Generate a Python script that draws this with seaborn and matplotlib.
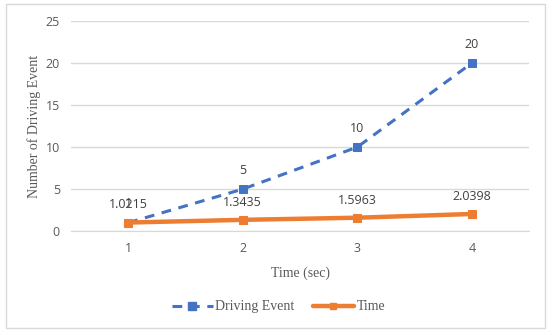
import pandas as pd
import matplotlib.pyplot as plt
import seaborn as sns
from matplotlib.lines import Line2D
from matplotlib.patches import Rectangle

# data
time_sec = [1, 2, 3, 4]
driving_event = [1, 5, 10, 20]
time_values = [1.0215, 1.3435, 1.5963, 2.0398]
time_labels = ["1.0215", "1.3435", "1.5963", "2.0398"]

df = pd.DataFrame({
    "t": time_sec,
    "Driving Event": driving_event,
    "Time": time_values,
})

blue = "#4472C4"
orange = "#ED7D31"
grey = "#595959"

sns.set_style("white")
plt.rcParams["font.family"] = ["Open Sans", "DejaVu Sans"]

fig = plt.figure(figsize=(5.5, 3.34), dpi=100)
ax = fig.add_axes([0.129, 0.308, 0.833, 0.629])

sns.lineplot(data=df, x="t", y="Driving Event", ax=ax, color=blue,
             linewidth=2.2, linestyle=(0, (3.2, 2.5)), marker="s",
             markersize=6, markeredgecolor=blue, zorder=3)
sns.lineplot(data=df, x="t", y="Time", ax=ax, color=orange,
             linewidth=3.2, marker="s", markersize=6,
             markeredgecolor=orange, zorder=4)

# data labels
for x, y in zip(time_sec, driving_event):
    ax.annotate(str(y), (x, y), xytext=(0, 9), textcoords="offset points",
                ha="center", va="bottom", fontsize=9, color="#404040")
for x, y, lab in zip(time_sec, time_values, time_labels):
    ax.annotate(lab, (x, y), xytext=(0, 8), textcoords="offset points",
                ha="center", va="bottom", fontsize=9, color="#404040")

ax.set_xlim(0.5, 4.5)
ax.set_ylim(0, 25)
ax.set_xticks(time_sec)
ax.set_yticks([0, 5, 10, 15, 20, 25])
ax.yaxis.grid(True, color="#D9D9D9", linewidth=1)
ax.xaxis.grid(False)
for s in ["top", "right", "left"]:
    ax.spines[s].set_visible(False)
ax.spines["bottom"].set_color("#D9D9D9")
ax.tick_params(axis="both", length=0, labelsize=9, colors=grey, pad=8)

ax.set_xlabel("Time (sec)", family="Liberation Serif", fontsize=10,
              color=grey, labelpad=8)
ax.set_ylabel("Number of Driving Event", family="Liberation Serif",
              fontsize=10, color=grey, labelpad=3)

handles = [
    Line2D([], [], color=blue, linewidth=2.2, linestyle=(0, (3.2, 2.5)),
           marker="s", markersize=6),
    Line2D([], [], color=orange, linewidth=3.2, marker="s", markersize=5),
]
leg = fig.legend(handles, ["Driving Event", "Time"], loc="center",
                 bbox_to_anchor=(0.506, 0.081), ncol=2, frameon=False,
                 prop={"family": "Liberation Serif", "size": 10},
                 handlelength=3.0, columnspacing=1.3, handletextpad=0.15)
for t in leg.get_texts():
    t.set_color(grey)

fig.patches.append(Rectangle((0.011, 0.018), 0.98, 0.97,
                             transform=fig.transFigure, fill=False,
                             edgecolor="#D9D9D9", linewidth=1))

fig.savefig("out.png", dpi=100)
